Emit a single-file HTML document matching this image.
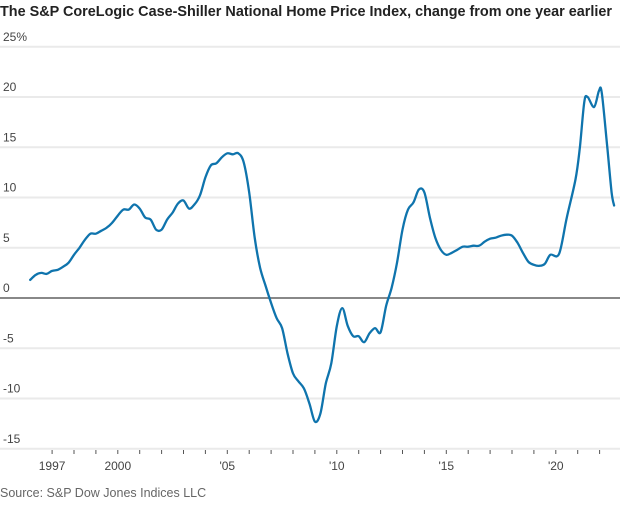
<!DOCTYPE html>
<html><head><meta charset="utf-8"><style>
body{margin:0;background:#fff;width:620px;height:500px;overflow:hidden;font-family:"Liberation Sans",sans-serif;}
svg text{font-family:"Liberation Sans",sans-serif;}
</style></head><body>
<svg id="chart" width="620" height="500">
<text x="0" y="16" font-size="15" font-weight="bold" fill="#222" textLength="612" lengthAdjust="spacingAndGlyphs">The S&amp;P CoreLogic Case-Shiller National Home Price Index, change from one year earlier</text>
<text x="0" y="497" font-size="12.5" fill="#666">Source: S&amp;P Dow Jones Indices LLC</text>
<g id="grid"></g><g id="xaxis"></g><g id="series"></g>
</svg>
<script>
const yTicks=[25,20,15,10,5,0,-5,-10,-15];
const yTickLabels=["25%","20","15","10","5","0","-5","-10","-15"];
const xLabelYears=[1997,2000,2005,2010,2015,2020];
const xLabels=["1997","2000","'05","'10","'15","'20"];
const years=[1996.0,1996.25,1996.5,1996.75,1997.0,1997.25,1997.5,1997.75,1998.0,1998.25,1998.5,1998.75,1999.0,1999.25,1999.5,1999.75,2000.0,2000.25,2000.5,2000.75,2001.0,2001.25,2001.5,2001.75,2002.0,2002.25,2002.5,2002.75,2003.0,2003.25,2003.5,2003.75,2004.0,2004.25,2004.5,2004.75,2005.0,2005.25,2005.5,2005.75,2006.0,2006.25,2006.5,2006.75,2007.0,2007.25,2007.5,2007.75,2008.0,2008.25,2008.5,2008.75,2009.0,2009.25,2009.5,2009.75,2010.0,2010.25,2010.5,2010.75,2011.0,2011.25,2011.5,2011.75,2012.0,2012.25,2012.5,2012.75,2013.0,2013.25,2013.5,2013.75,2014.0,2014.25,2014.5,2014.75,2015.0,2015.25,2015.5,2015.75,2016.0,2016.25,2016.5,2016.75,2017.0,2017.25,2017.5,2017.75,2018.0,2018.25,2018.5,2018.75,2019.0,2019.25,2019.5,2019.75,2020.15,2020.5,2020.9,2021.1,2021.3,2021.45,2021.75,2021.97,2022.1,2022.35,2022.55,2022.66];
const values=[1.8,2.3,2.5,2.4,2.7,2.8,3.1,3.5,4.3,5.0,5.8,6.4,6.4,6.7,7.0,7.5,8.2,8.8,8.8,9.3,8.9,8.0,7.8,6.8,6.8,7.8,8.5,9.4,9.7,8.9,9.3,10.2,12.0,13.2,13.4,14.0,14.4,14.3,14.4,13.5,10.5,6.0,3.0,1.2,-0.5,-2.0,-3.0,-5.5,-7.5,-8.3,-9.0,-10.5,-12.3,-11.5,-8.5,-6.5,-2.8,-1.0,-2.8,-3.8,-3.8,-4.4,-3.5,-3.0,-3.4,-0.8,1.0,3.5,6.8,8.8,9.5,10.8,10.5,8.0,6.0,4.8,4.3,4.5,4.8,5.1,5.1,5.2,5.2,5.6,5.9,6.0,6.2,6.3,6.2,5.5,4.5,3.6,3.3,3.2,3.4,4.3,4.4,8.0,11.8,15.0,19.5,20.0,19.0,20.6,20.4,15.0,10.5,9.2];
const NS="http://www.w3.org/2000/svg";
function x(t){return 117.8+(t-2000)*21.9;}
function y(v){return 298-v*10.05;}
function mk(tag,attrs,parent){const e=document.createElementNS(NS,tag);for(const k in attrs)e.setAttribute(k,attrs[k]);parent.appendChild(e);return e;}
const grid=document.getElementById('grid');
yTicks.forEach((v,i)=>{
  const l=mk('line',{x1:0,x2:620,y1:y(v),y2:y(v),stroke:v===0?'#888':'#eaeaea','stroke-width':2},grid);
  
  
  const t=mk('text',{x:3,y:y(v)-6,'font-size':12,fill:'#444'},grid);
  t.textContent=yTickLabels[i];
  
  
});
const xa=document.getElementById('xaxis');
for(let yr=1997;yr<=2022;yr++){
  const tk=mk('line',{x1:x(yr),x2:x(yr),y1:450,y2:454,stroke:'#555','stroke-width':1},xa);
  
  
}
xLabelYears.forEach((yr,i)=>{
  const t=mk('text',{x:x(yr),y:470,'font-size':12,fill:'#444','text-anchor':'middle'},xa);
  t.textContent=xLabels[i];
  
  
});
const pts=years.map((t,i)=>[x(t),y(values[i])]);
let d='M'+pts[0][0].toFixed(1)+' '+pts[0][1].toFixed(1);
for(let i=0;i<pts.length-1;i++){
  const p0=pts[Math.max(0,i-1)],p1=pts[i],p2=pts[i+1],p3=pts[Math.min(pts.length-1,i+2)];
  const c1=[p1[0]+(p2[0]-p0[0])/6,p1[1]+(p2[1]-p0[1])/6];
  const c2=[p2[0]-(p3[0]-p1[0])/6,p2[1]-(p3[1]-p1[1])/6];
  d+='C'+c1[0].toFixed(1)+' '+c1[1].toFixed(1)+' '+c2[0].toFixed(1)+' '+c2[1].toFixed(1)+' '+p2[0].toFixed(1)+' '+p2[1].toFixed(1);
}
const p=mk('path',{d:d,fill:'none',stroke:'#0f74ad','stroke-width':2.3,'stroke-linejoin':'round','stroke-linecap':'round'},document.getElementById('series'));


</script>
</body></html>
